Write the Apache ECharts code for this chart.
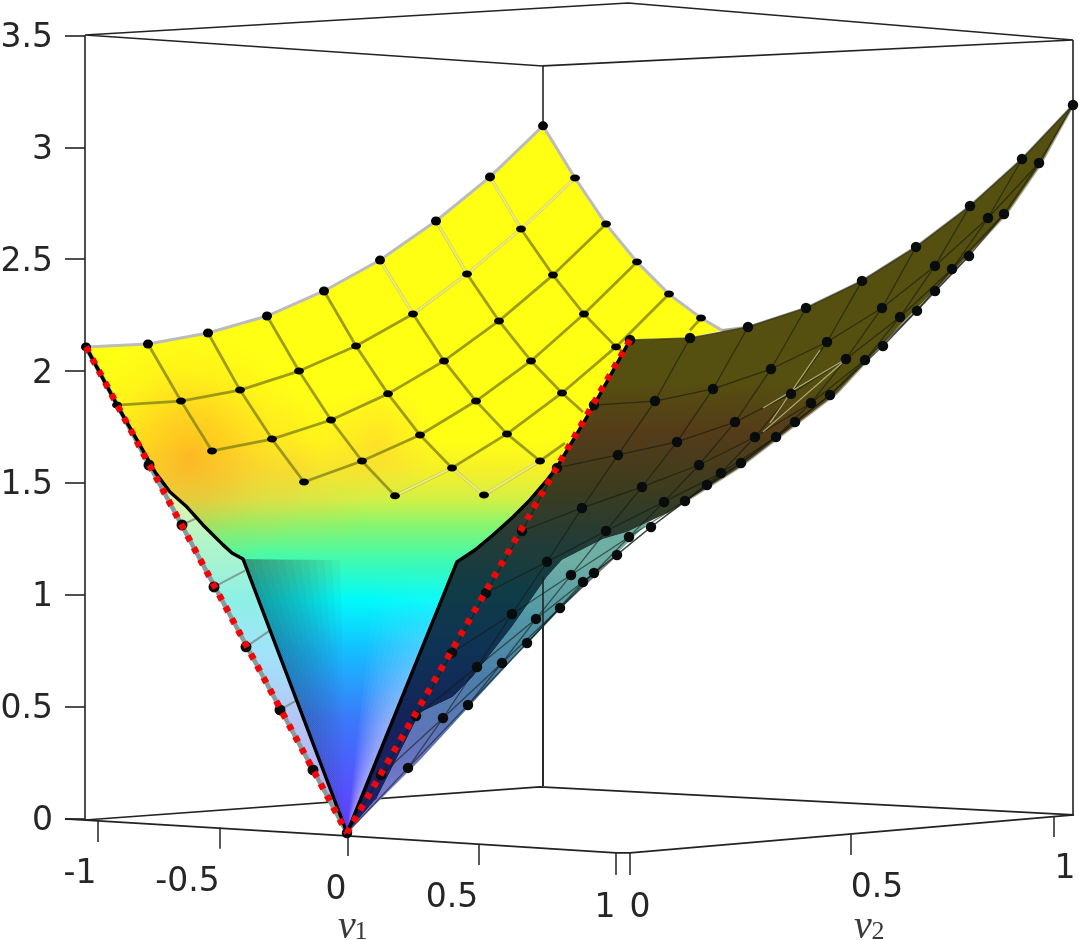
<!DOCTYPE html>
<html><head><meta charset="utf-8">
<style>html,body{margin:0;padding:0;background:#fff}#c{width:1080px;height:940px}</style>
<script src="https://cdn.jsdelivr.net/npm/echarts@6/dist/echarts.min.js"></script>
</head><body><div id="c"></div>
<script>
// Every point is [projected horizontal position, z value]
const zTicks = [0, 0.5, 1, 1.5, 2, 2.5, 3, 3.5];

const yellowRows = [
 [[86,2.108],[148,2.121],[208,2.170],[267,2.246],[324,2.358],[380,2.496],[436,2.671],[490,2.868],[543,3.096]],
 [[117,1.848],[181,1.866],[240,1.915],[299,2.000],[356,2.112],[413,2.255],[467,2.434],[521,2.635],[575,2.863]],
 [null,[212,1.643],[272,1.696],[331,1.781],[388,1.898],[444,2.045],[499,2.224],[553,2.429],[606,2.657]],
 [null,null,[304,1.504],[362,1.598],[420,1.714],[476,1.866],[531,2.045],[584,2.255],[637,2.488]],
 [null,null,null,[395,1.442],[452,1.567],[507,1.719],[562,1.902],[616,2.108],[669,2.344]],
 [null,null,null,null,[484,1.446],[540,1.598],null,null,[701,2.237]]
];
const yellowStubs = [
 [[540,1.598],[565,1.678]], [[562,1.902],[583,1.817]], [[616,2.108],[625,2.080]], [[701,2.237],[690,2.182]]
];
const paleSegments = [
 [[490,2.868],[521,2.635]], [[467,2.434],[521,2.635]], [[521,2.635],[575,2.863]], [[436,2.671],[467,2.434]],
 [[413,2.255],[467,2.434]], [[380,2.496],[413,2.255]], [[395,1.442],[452,1.567]], [[452,1.567],[484,1.446]], [[484,1.446],[540,1.598]]
];
const leftEdgeDots = [[149,1.580],[182,1.312],[214,1.035],[246,0.767],[280,0.485],[313,0.217]];
const leftStubs = [
 [[182,1.312],[197,1.343]], [[214,1.035],[245,1.108]], [[246,0.767],[273,0.850]], [[280,0.485],[300,0.537]]
];
const leftCurve = [[86,2.108],[117,1.848],[137,1.692],[155,1.549],[170,1.459],[187,1.392],[203,1.312],[223,1.223],[232,1.187],[243,1.160],[347,-0.065]];
const rightCurve = [[630,2.139],[594,1.848],[557,1.571],[547,1.513],[530,1.424],[513,1.348],[493,1.267],[475,1.200],[457,1.147],[347,-0.065]];
const yellowTopEdge = [
 [86,2.108],[148,2.121],[208,2.170],[267,2.246],[324,2.358],[380,2.496],[436,2.671],[490,2.868],[543,3.096],
 [575,2.863],[606,2.657],[637,2.488],[669,2.344],[701,2.237],[722,2.182],[690,2.148]
];
const veeLeftTops = [252,260,268,276,284,292,300,308,316,324,332,340];
const veeRightTops = [450,442,434,426,418,410,402,394,386,378];
const veeTopZ = 1.155;
const veeApex = [347,-0.065];
const leftStraight = [[86,2.108],[347,-0.065]];
const rightStraight = [[630,2.139],[347,-0.065]];

const darkRows = [
 [[630,2.139],[690,2.148],[748,2.197],[806,2.282],[862,2.403],[916,2.555],[970,2.738],[1022,2.948],[1073,3.189]],
 [[594,1.848],[655,1.866],[713,1.920],[771,2.009],[827,2.130],[882,2.282],[935,2.470],[988,2.684],[1039,2.930]],
 [[557,1.567],[618,1.625],[677,1.683],[735,1.772],[791,1.898],[846,2.054],[900,2.242],[952,2.456],[1004,2.702]],
 [[522,1.285],[582,1.388],[642,1.482],[699,1.580],[755,1.705],[811,1.857],[865,2.049],[917,2.269],[969,2.514]],
 [[486,1.008],[547,1.147],[606,1.285],[664,1.415],[721,1.544],[776,1.705],[830,1.893],[883,2.112],[935,2.358]],
 [[452,0.740],[512,0.914],[571,1.088],[629,1.258],[685,1.419],[741,1.589],[795,1.772]],
 [[416,0.458],[477,0.677],[536,0.892],[594,1.097],[651,1.303],[707,1.491]],
 [[381,0.194],[443,0.449],[502,0.695],[560,0.941],[617,1.178]],
 [[347,-0.065],[408,0.226],[468,0.507],[527,0.784],[583,1.057]]
];
const darkLowerEdge = [
 [1073,3.189],[1040,2.921],[1007,2.707],[957,2.465],[900,2.206],[837,1.902],[740,1.571],[667,1.366],[627,1.281],[603,1.249],
 [562,1.155],[547,1.080],[512,0.856],[473,0.633],[453,0.543],[420,0.472],[377,0.092],[358,-0.007],[347,-0.065]
];
const tealOuterEdge = [
 [667,1.366],[650,1.330],[607,1.142],[557,0.919],[512,0.708],[477,0.539],[420,0.261],[350,-0.051],[347,-0.065],
 [358,-0.007],[377,0.092],[420,0.472],[453,0.543],[473,0.633],[512,0.856],[547,1.080],[562,1.155],[603,1.249],[627,1.281]
];
const paleDarkSegments = [
 [[763,1.835],[846,2.054]], [[763,1.728],[842,2.036]], [[820,2.094],[770,1.768]]
];
const darkTopEdge = [[722,2.182],[748,2.197],[806,2.282],[862,2.403],[916,2.555],[970,2.738],[1022,2.948],[1073,3.189]];

const backBox = [
 [[85,3.502],[628,3.645],[1073,3.480],[543,3.364],[85,3.502]],
 [[85,-0.007],[540,0.141],[1074,0.016]],
 [[543,3.364],[543,0.145]]
];
const frontBox = [
 [[85,-0.007],[85,3.502]],
 [[1073,3.480],[1073,0.016]],
 [[65,-0.002],[347,-0.078],[616,-0.154],[630,-0.154],[1074,0.016]],
 [[543,1.080],[543,0.145]]
];
const axisTickMarks = [
 [[98,-0.009],[98,-0.105]], [[220,-0.042],[220,-0.136]], [[348,-0.083],[348,-0.168]], [[479,-0.114],[479,-0.208]], [[616,-0.154],[616,-0.253]],
 [[630,-0.154],[630,-0.253]], [[851,-0.069],[851,-0.163]], [[1054,0.009],[1054,-0.083]]
];
const nuTickText = ['-1','-0.5','0','0.5','1','0','0.5','1'];
const nuTickX = [80,187.5,336,452,605,640,877,1065];
const nuTickZ = [-0.250,-0.286,-0.320,-0.358,-0.400,-0.400,-0.311,-0.226];
const nuNameGreek = ['\u03BD','\u03BD'];
const nuNameX = [347,863];
const nuNameZ = [-0.489,-0.489];
const nuSubText = ['1','2'];
const nuSubX = [361,878];
const nuSubZ = [-0.507,-0.507];

// colour ramps: [z, colour]
const mainRamp = [[3.2,'#ffff14'],[1.69,'#ffff14'],[1.56,'#f5f028'],[1.424,'#d2f046'],[1.312,'#87f56e'],[1.169,'#46faaa'],[0.977,'#00fafa'],[0.753,'#14beff'],[0.44,'#3c78fa'],[0.083,'#5a4bff'],[-0.07,'#5a3cfa']];
const stripRamp = [[2.11,'#fbfb80'],[1.85,'#fbfb96'],[1.424,'#e1f5b0'],[1.25,'#b4f5c6'],[0.977,'#8ef0e6'],[0.753,'#a0e4fa'],[0.44,'#b4c6f5'],[0,'#b4aafa']];
const darkRamp = [[3.2,'#55500f'],[1.96,'#55500f'],[1.73,'#553c19'],[1.47,'#3c3c1e'],[1.24,'#233c37'],[1.02,'#0f3c46'],[0.75,'#0f3255'],[0.44,'#14235a'],[-0.07,'#231e6e']];
const tealRamp = [[1.4,'#6eafa5'],[1.155,'#6eafa5'],[0.89,'#5096a5'],[0.62,'#4b7daa'],[0.31,'#6473be'],[-0.07,'#8282dc']];
const veeDarkRamp = [[1.16,'rgba(40,60,70,0.055)'],[0.6,'rgba(40,60,80,0.035)'],[-0.07,'rgba(40,60,80,0.006)']];
const veeLightRamp = [[1.16,'rgba(255,255,255,0)'],[0.95,'rgba(255,255,255,0.006)'],[0.45,'rgba(255,255,255,0.055)'],[-0.07,'rgba(255,255,255,0.07)']];

const yellowOutline = yellowTopEdge.concat(rightCurve, leftCurve.slice(0,-1).reverse());
const leftStrip = [leftStraight[0], leftStraight[1]].concat(leftCurve.slice(1,-1).reverse());
const darkOutline = darkRows[0].concat(darkLowerEdge.slice(1), rightCurve.slice().reverse().slice(1));

const el = document.getElementById('c');
const chart = echarts.init(el, null, {renderer:'canvas'});

function ramp(api, r){
  const y0 = api.coord([0, r[0][0]])[1], y1 = api.coord([0, r[r.length-1][0]])[1];
  return new echarts.graphic.LinearGradient(0,y0,0,y1,
    r.map(s=>({offset:(api.coord([0,s[0]])[1]-y0)/(y1-y0), color:s[1]})), true);
}
function glow(cx,cz,rx,stops){
  return api=>{const c=api.coord([cx,cz]);const r=api.coord([cx+rx,cz])[0]-c[0];
    return new echarts.graphic.RadialGradient(c[0],c[1],r,stops,true);};
}
let layer = 10;
function poly(points, fill){
  return {type:'custom', coordinateSystem:'cartesian2d', silent:true, z:layer++, clip:false, data:[[0,0]],
    renderItem:(p,api)=>({type:'polygon', shape:{points:points.map(q=>api.coord(q))}, style:{fill:fill(api)}})};
}
function lines(segs, style){
  return {type:'custom', coordinateSystem:'cartesian2d', silent:true, z:layer++, clip:false, data:[[0,0]],
    renderItem:(p,api)=>({type:'group', children:segs.map(s=>({type:'polyline', shape:{points:s.map(q=>api.coord(q))},
       style:Object.assign({fill:null},style)}))})};
}
function texts(str,xs,zs,font,fill){
  return {type:'custom', coordinateSystem:'cartesian2d', silent:true, z:layer++, clip:false, data:[[0,0]],
    renderItem:(p,api)=>({type:'group', children:str.map((t,i)=>{const c=api.coord([xs[i],zs[i]]);
       return {type:'text', style:{text:t,x:c[0],y:c[1],font:font,fill:fill,align:'center',verticalAlign:'middle'}};})})};
}
function dots(data,size,color){
  return {type:'scatter', silent:true, z:layer++, clip:false, symbol:'circle', symbolSize:size, data:data,
    itemStyle:{color:color, opacity:1}};
}
function meshRowSegs(rows){
  const out=[];
  rows.forEach((r,i)=>r.forEach((q,j)=>{
    if(!q) return;
    if(i>0 && j<r.length-1 && r[j+1]) out.push([q,r[j+1]]);
    if(j>0 && j<8 && i<rows.length-1 && rows[i+1][j]) out.push([q,rows[i+1][j]]);
  }));
  return out;
}
function darkSegs(rows){
  const out=[];
  rows.forEach((r,i)=>r.forEach((q,j)=>{
    if(j<r.length-1) out.push([q,r[j+1]]);
    if(i<rows.length-1 && rows[i+1][j]) out.push([q,rows[i+1][j]]);
  }));
  return out;
}
const flat = rows => rows.flat().filter(Boolean);
const lineCol='#222222';

const series = [
  lines(backBox,{stroke:lineCol,lineWidth:1.6}),
  poly(leftStrip, api=>ramp(api,stripRamp)),
  poly(yellowOutline, api=>ramp(api,mainRamp)),
  poly(yellowOutline, glow(190,1.62,125,[{offset:0,color:'rgba(255,140,40,0.58)'},{offset:0.35,color:'rgba(255,150,45,0.40)'},{offset:0.7,color:'rgba(255,165,55,0.12)'},{offset:1,color:'rgba(255,170,60,0)'}])),
  poly(yellowOutline, glow(295,1.56,85,[{offset:0,color:'rgba(255,170,60,0.25)'},{offset:1,color:'rgba(255,180,70,0)'}])),
  poly(yellowOutline, glow(378,1.68,60,[{offset:0,color:'rgba(255,170,70,0.35)'},{offset:1,color:'rgba(255,190,80,0)'}])),
  ...veeLeftTops.map(x=>poly([[243,1.160],[x,veeTopZ],veeApex],api=>ramp(api,veeDarkRamp))),
  ...veeRightTops.map(x=>poly([[457,1.147],[x,veeTopZ],veeApex],api=>ramp(api,veeLightRamp))),
  lines([yellowTopEdge.slice(0,15)],{stroke:'#bcbcbc',lineWidth:3}),
  lines(meshRowSegs(yellowRows).concat(yellowStubs),{stroke:'rgba(130,130,20,0.78)',lineWidth:2.8}),
  lines(paleSegments,{stroke:'rgba(238,238,130,0.95)',lineWidth:2.6}),
  lines(leftStubs,{stroke:'rgba(110,125,120,0.7)',lineWidth:2}),
  poly(tealOuterEdge, api=>ramp(api,tealRamp)),
  lines([darkTopEdge,darkLowerEdge.slice(0,8)],{stroke:'#a8a89c',lineWidth:2.6}),
  poly(darkOutline, api=>ramp(api,darkRamp)),
  lines(darkSegs(darkRows),{stroke:'rgba(20,25,15,0.6)',lineWidth:1.3}),
  lines(paleDarkSegments,{stroke:'rgba(190,190,130,0.85)',lineWidth:1.2}),
  lines(frontBox,{stroke:lineCol,lineWidth:1.6}),
  lines(axisTickMarks,{stroke:lineCol,lineWidth:1.5}),
  lines([leftStraight],{stroke:'#8b9a9a',lineWidth:4.5}),
  lines([leftCurve,rightCurve],{stroke:'#000000',lineWidth:3.4,lineJoin:'round'}),
  dots(flat(yellowRows.slice(1)),[10,7],'#000'),
  dots(yellowRows[0],[10,9],'#000'),
  dots(leftEdgeDots,11,'#0a0a0a'),
  dots(flat(darkRows),10.5,'#080c0c'),
  lines([leftStraight,rightStraight],{stroke:'#f00808',lineWidth:6.5,lineDash:[6,7.4]}),
  texts(nuTickText,nuTickX,nuTickZ,'33px "DejaVu Sans"','#262626'),
  texts(nuNameGreek,nuNameX,nuNameZ,'italic 40px "Liberation Serif"','#3a3a3a'),
  texts(nuSubText,nuSubX,nuSubZ,'26px "Liberation Serif"','#3a3a3a')
];

chart.setOption({
  animation:false,
  backgroundColor:'#ffffff',
  grid:{left:85,right:0,top:35.5,bottom:9.7,containLabel:false,outerBoundsMode:'none'},
  xAxis:{type:'value',min:85,max:1080,show:false},
  yAxis:{type:'value',min:-0.5,max:3.5,interval:0.5,
    axisLine:{show:false},splitLine:{show:false},
    axisTick:{show:true,length:20,customValues:zTicks,lineStyle:{color:lineCol,width:1.6}},
    axisLabel:{show:true,margin:32,verticalAlign:'top',lineHeight:6,fontFamily:'DejaVu Sans',fontSize:33,color:'#262626',customValues:zTicks,
      formatter:v=>String(v)}},
  series:series
});
</script></body></html>
